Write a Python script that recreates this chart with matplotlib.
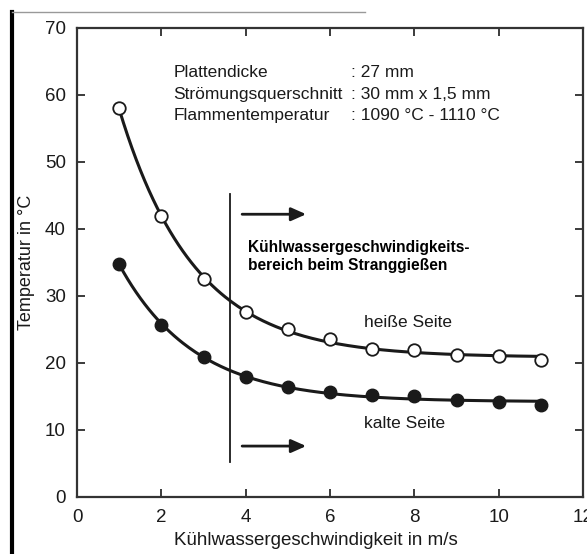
import numpy as np
import matplotlib
matplotlib.use("Agg")
import matplotlib.pyplot as plt
from matplotlib.lines import Line2D

# data
speed = [1, 2, 3, 4, 5, 6, 7, 8, 9, 10, 11]
hot_side = [58.0, 41.9, 32.5, 27.6, 25.1, 23.6, 22.1, 21.9, 21.2, 21.0, 20.4]
cold_side = [34.8, 25.7, 20.9, 17.9, 16.4, 15.6, 15.2, 15.0, 14.5, 14.2, 13.7]

param_names = ["Plattendicke", "Strömungsquerschnitt", "Flammentemperatur"]
param_values = [": 27 mm", ": 30 mm x 1,5 mm", ": 1090 °C - 1110 °C"]


def fitDecay(x, y):
    """
    Fit y = a + b*exp(-x/t), t by grid search, a and b by least squares.
    """
    x = np.asarray(x, float)
    y = np.asarray(y, float)
    best = None
    for t in np.linspace(0.3, 5, 300):
        A = np.column_stack([np.ones_like(x), np.exp(-x / t)])
        coef, res, _, _ = np.linalg.lstsq(A, y, rcond=None)
        err = np.sum((A @ coef - y) ** 2)
        if best is None or err < best[0]:
            best = (err, coef, t)
    _, coef, t = best
    return lambda xx: coef[0] + coef[1] * np.exp(-xx / t)


plt.rcParams['font.family'] = ['Liberation Sans', 'DejaVu Sans']
ink = '#1a1a1a'

fig = plt.figure(figsize=(5.87, 5.54), dpi=100)
ax = fig.add_axes([0.1312, 0.1029, 0.8620, 0.8466])

xs = np.linspace(1, 11, 200)
ax.plot(xs, fitDecay(speed, hot_side)(xs), color=ink, lw=2.2, zorder=2)
ax.plot(xs, fitDecay(speed, cold_side)(xs), color=ink, lw=2.2, zorder=2)
ax.plot(speed, hot_side, 'o', ms=9, mfc='white', mec=ink, mew=1.3, zorder=3)
ax.plot(speed, cold_side, 'o', ms=9, mfc=ink, mec=ink, zorder=3)

ax.set_xlim(0, 12)
ax.set_ylim(0, 70)
ax.set_xticks([0, 2, 4, 6, 8, 10, 12])
ax.set_yticks([0, 10, 20, 30, 40, 50, 60, 70])
ax.tick_params(direction='in', top=True, right=True, length=6, width=1.2,
               labelsize=13.5, colors=ink)
ax.tick_params(axis='x', pad=9)
ax.tick_params(axis='y', pad=8)
for s in ax.spines.values():
    s.set_linewidth(1.6)
    s.set_color('#333333')

ax.set_xlabel("Kühlwassergeschwindigkeit in m/s", fontsize=13.5, color=ink)
ax.xaxis.set_label_coords(0.472, -0.075)
ax.set_ylabel("Temperatur in °C", fontsize=13, color=ink)
ax.yaxis.set_label_coords(-0.083, 0.5)

# parameter block
for i, (n, v) in enumerate(zip(param_names, param_values)):
    yy = 63.3 - i * 3.2
    ax.text(2.28, yy, n, fontsize=12.5, color=ink, va='center')
    ax.text(6.5, yy, v, fontsize=12.5, color=ink, va='center')

# range of cooling water speed in continuous casting
ax.plot([3.63, 3.63], [5.2, 45.2], color=ink, lw=1.3)
for yy in [42.2, 7.6]:
    ax.annotate("", xy=(5.5, yy), xytext=(3.85, yy),
                arrowprops=dict(arrowstyle='-|>,head_length=0.9,head_width=0.4',
                                color=ink, lw=2))
ax.text(4.05, 35.9, "Kühlwassergeschwindigkeits-\nbereich beim Stranggießen",
        fontsize=11.2, fontweight='bold', color='black', va='center', linespacing=1.25)

ax.text(6.8, 26.1, "heiße Seite", fontsize=12.5, color=ink, va='center')
ax.text(6.8, 10.9, "kalte Seite", fontsize=12.5, color=ink, va='center')

# scan frame
fig.add_artist(Line2D([12 / 587, 12 / 587], [0, 1 - 12 / 554], color='black', lw=3,
                      transform=fig.transFigure))
fig.add_artist(Line2D([12 / 587, 365 / 587], [1 - 12 / 554, 1 - 12 / 554], color='#999999',
                      lw=1, transform=fig.transFigure))

fig.savefig('out.png', dpi=100)
